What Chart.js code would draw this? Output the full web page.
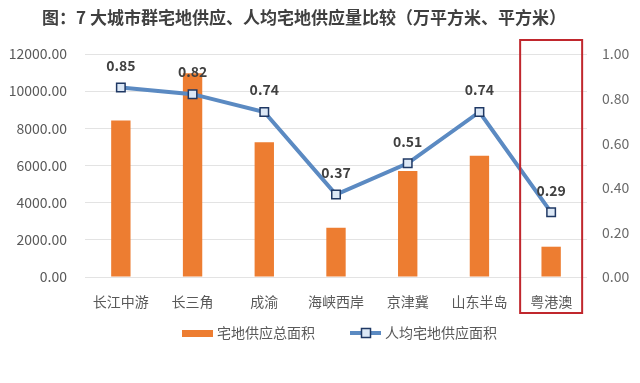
<!DOCTYPE html>
<html>
<head>
<meta charset="utf-8">
<script src="https://cdn.jsdelivr.net/npm/chart.js@4/dist/chart.umd.min.js"></script>
<style>
html,body{margin:0;padding:0;background:#fff;}
#wrap{width:640px;height:383px;position:relative;}
</style>
</head>
<body>
<div id="wrap"><canvas id="c" width="640" height="383"></canvas></div>
<script>
const titleText = '图：7 大城市群宅地供应、人均宅地供应量比较（万平方米、平方米）';
const categories = ['长江中游','长三角','成渝','海峡西岸','京津冀','山东半岛','粤港澳'];
const totalArea = [8420, 10970, 7250, 2650, 5700, 6530, 1630];
const perCapita = [0.85, 0.82, 0.74, 0.37, 0.51, 0.74, 0.29];
const seriesNames = ['宅地供应总面积','人均宅地供应面积'];
const highlightIndex = 6;

const FONT = "'Noto Sans CJK SC','Noto Sans',sans-serif";
const BAR = '#ed7d31';
const LINE = '#5b8ac2';
const MARK_BORDER = '#1f3864';
const MARK_FILL = '#dce8f6';

const overlay = {
  id: 'overlay',
  afterDatasetsDraw(chart) {
    const ctx = chart.ctx;
    const meta = chart.getDatasetMeta(1);
    ctx.save();
    ctx.font = 'bold 14px ' + FONT;
    ctx.fillStyle = '#404040';
    ctx.textAlign = 'center';
    ctx.textBaseline = 'middle';
    meta.data.forEach((p, i) => {
      ctx.fillText(perCapita[i].toFixed(2), p.x, p.y - 22);
    });
    ctx.restore();
  },
  afterDraw(chart) {
    const ctx = chart.ctx;
    const x = chart.scales.x, area = chart.chartArea;
    ctx.save();
    ctx.font = 'bold 17px ' + FONT;
    ctx.fillStyle = '#404040';
    ctx.textAlign = 'left';
    ctx.textBaseline = 'middle';
    ctx.fillText(titleText, 42, 18);
    const cx = x.getPixelForValue(highlightIndex);
    ctx.strokeStyle = '#c0272d';
    ctx.lineWidth = 2;
    ctx.strokeRect(cx - 31, area.top - 14, 62, area.bottom - area.top + 50);
    const ly = 333;
    ctx.font = '14px ' + FONT;
    ctx.fillStyle = BAR;
    ctx.fillRect(182, ly - 3, 31, 7);
    ctx.fillStyle = '#595959';
    ctx.fillText(seriesNames[0], 217, ly);
    ctx.strokeStyle = LINE;
    ctx.lineWidth = 4;
    ctx.beginPath(); ctx.moveTo(350, ly); ctx.lineTo(381, ly); ctx.stroke();
    ctx.fillStyle = MARK_FILL;
    ctx.strokeStyle = MARK_BORDER;
    ctx.lineWidth = 1.5;
    ctx.fillRect(361.5, ly - 4.5, 9, 9);
    ctx.strokeRect(361.5, ly - 4.5, 9, 9);
    ctx.fillStyle = '#595959';
    ctx.fillText(seriesNames[1], 385, ly);
    ctx.restore();
  }
};

new Chart(document.getElementById('c'), {
  data: {
    labels: categories,
    datasets: [
      {
        type: 'bar', label: seriesNames[0], data: totalArea, yAxisID: 'y',
        backgroundColor: BAR, barPercentage: 0.27, categoryPercentage: 1, order: 1
      },
      {
        type: 'line', label: seriesNames[1], data: perCapita, yAxisID: 'y1',
        borderColor: LINE, borderWidth: 4, pointStyle: 'rect', pointRadius: 6,
        pointBorderColor: MARK_BORDER, pointBackgroundColor: MARK_FILL, pointBorderWidth: 1.5,
        tension: 0, order: 0
      }
    ]
  },
  options: {
    responsive: false, animation: false,
    layout: { padding: { top: 54, left: 0, right: 0, bottom: 0 } },
    plugins: { legend: { display: false }, title: { display: false }, tooltip: { enabled: false } },
    scales: {
      x: {
        grid: { display: false, drawTicks: false }, border: { display: false },
        ticks: { font: { size: 14, family: FONT }, color: '#595959', padding: 16 },
        afterFit(s) { s.height = 106; }
      },
      y: {
        position: 'left', min: 0, max: 12000,
        ticks: { stepSize: 2000, font: { size: 14, family: FONT }, color: '#595959', padding: 18,
          callback: v => v.toFixed(2) },
        grid: { color: '#e3e3e3', drawTicks: false }, border: { display: false },
        afterFit(s) { s.width = 85; }
      },
      y1: {
        position: 'right', min: 0, max: 1,
        ticks: { stepSize: 0.2, font: { size: 14, family: FONT }, color: '#6a6a6a', padding: 15,
          callback: v => v.toFixed(2) },
        grid: { drawOnChartArea: false, drawTicks: false }, border: { display: false },
        afterFit(s) { s.width = 53; }
      }
    }
  },
  plugins: [overlay]
});
</script>
</body>
</html>
